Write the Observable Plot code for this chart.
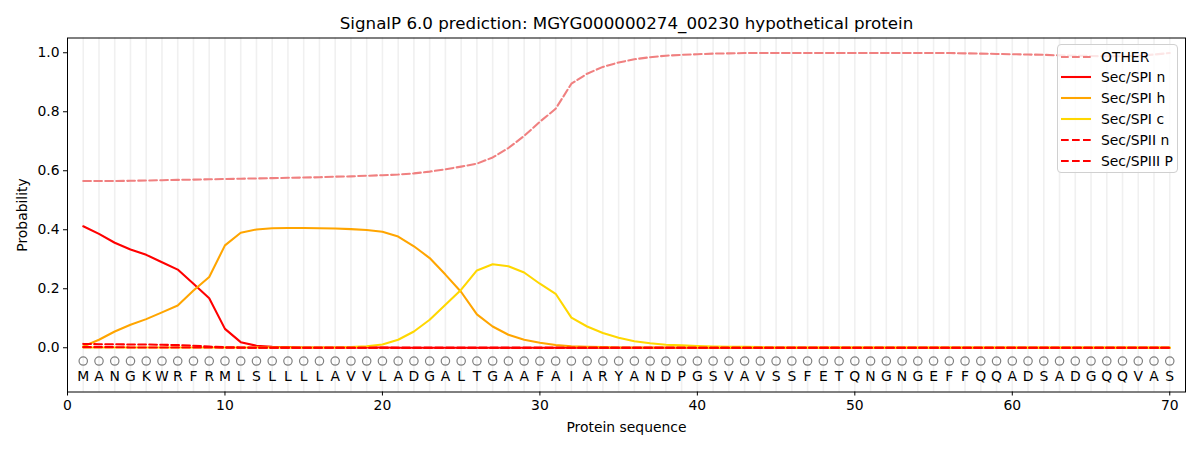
<!DOCTYPE html>
<html>
<head>
<meta charset="utf-8">
<script src="https://cdn.jsdelivr.net/npm/d3@7"></script>
<script src="https://cdn.jsdelivr.net/npm/@observablehq/plot@0.6"></script>
<style>
  html, body { margin: 0; padding: 0; background: #fff; }
  #wrap { position: relative; width: 1200px; height: 450px; font-family: "DejaVu Sans", sans-serif; }
  #legend { position: absolute; left: 1057px; top: 44px; width: 121px; height: 129px; box-sizing: border-box;
            border: 1px solid #d0d0d0; border-radius: 4px; background: rgba(255,255,255,0.8); }
  .row { position: absolute; left: 0; height: 20px; display: flex; align-items: center; font-size: 13.9px; color: #000; white-space: nowrap; }
  .row svg { margin-left: 3px; margin-right: 10px; }
</style>
</head>
<body>
<div id="wrap"><div id="legend"></div></div>
<script>
const title = "SignalP 6.0 prediction: MGYG000000274_00230 hypothetical protein";
const residues = "MANGKWRFRMLSLLLLAVVLADGALTGAAFAIARYANDPGSVAVSSFETQNGNGEFFQQADSADGQQVAS".split("");
const xTicks = [0, 10, 20, 30, 40, 50, 60, 70];
const yTicks = [0, 0.2, 0.4, 0.6, 0.8, 1.0];

const other = [0.565,0.565,0.565,0.566,0.567,0.568,0.569,0.570,0.571,0.572,
  0.573,0.574,0.575,0.576,0.577,0.578,0.580,0.581,0.583,0.585,
  0.587,0.591,0.597,0.605,0.614,0.624,0.645,0.677,0.718,0.766,
  0.810,0.895,0.929,0.952,0.967,0.978,0.985,0.990,0.993,0.995,
  0.997,0.998,0.999,0.999,0.999,0.999,0.999,0.999,0.999,0.999,
  0.999,0.999,0.999,0.999,0.999,0.999,0.998,0.997,0.996,0.995,
  0.994,0.993,0.991,0.990,0.989,0.988,0.988,0.990,0.994,0.999];
const spiN = [0.412,0.386,0.356,0.333,0.315,0.290,0.265,0.217,0.168,0.064,
  0.019,0.007,0.003,0.002,0.001,0.001,0.001,0.001,0.001,0.001,
  0,0,0,0,0,0,0,0,0,0,0,0,0,0,0,0,0,0,0,0,
  0,0,0,0,0,0,0,0,0,0,0,0,0,0,0,0,0,0,0,0,0,0,0,0,0,0,0,0,0,0];
const spiH = [0.004,0.027,0.055,0.078,0.097,0.120,0.143,0.194,0.240,0.347,
  0.390,0.401,0.405,0.406,0.406,0.405,0.404,0.402,0.399,0.393,
  0.377,0.344,0.304,0.248,0.189,0.113,0.072,0.044,0.027,0.017,
  0.009,0.005,0.003,0.002,0.001,0.001,0.001,0.001,0.001,0,
  0,0,0,0,0,0,0,0,0,0,0,0,0,0,0,0,0,0,0,0,0,0,0,0,0,0,0,0,0,0];
const spiC = [0.001,0.001,0.001,0.001,0.001,0.001,0.001,0.001,0.001,0.001,
  0.001,0.001,0.001,0.001,0.001,0.001,0.001,0.002,0.005,0.011,
  0.027,0.055,0.095,0.146,0.197,0.262,0.283,0.276,0.255,0.217,
  0.183,0.102,0.072,0.050,0.034,0.022,0.015,0.010,0.008,0.006,
  0.004,0.003,0.003,0.002,0.001,0.001,0.001,0.001,0.001,0.001,
  0.001,0.001,0.001,0.001,0.001,0.001,0.001,0.001,0.001,0.001,
  0.001,0.001,0.001,0.001,0.001,0.001,0.001,0.001,0.001,0.001];
const spiiN = [0.013,0.012,0.012,0.011,0.011,0.010,0.009,0.007,0.004,0.002,
  0.001,0,0,0,0,0,0,0,0,0,0,0,0,0,0,0,0,0,0,0,
  0,0,0,0,0,0,0,0,0,0,0,0,0,0,0,0,0,0,0,0,0,0,0,0,0,0,0,0,0,0,0,0,0,0,0,0,0,0,0,0];
const spiiiP = [0.002,0.002,0.002,0.001,0.001,0.001,0.001,0.001,0.001,0,
  0,0,0,0,0,0,0,0,0,0,0,0,0,0,0,0,0,0,0,0,
  0,0,0,0,0,0,0,0,0,0,0,0,0,0,0,0,0,0,0,0,0,0,0,0,0,0,0,0,0,0,0,0,0,0,0,0,0,0,0,0];

const seriesNames = ["OTHER", "Sec/SPI n", "Sec/SPI h", "Sec/SPI c", "Sec/SPII n", "Sec/SPIII P"];
const seriesValues = [other, spiN, spiH, spiC, spiiN, spiiiP];
const seriesColors = ["lightcoral", "red", "orange", "gold", "red", "red"];
const seriesDashed = [true, false, false, false, true, true];

const positions = residues.map((_, i) => i + 1);
const dash = "7.7,3.3";
const font = "DejaVu Sans, sans-serif";

const lineMarks = seriesValues.map((vals, s) =>
  Plot.line(vals.map((v, i) => ({x: i + 1, y: v})), {
    x: "x", y: "y", stroke: seriesColors[s], strokeWidth: 2.08,
    strokeDasharray: seriesDashed[s] ? dash : null
  })
);

const chart = Plot.plot({
  width: 1200, height: 450,
  marginLeft: 67, marginRight: 15, marginTop: 37.5, marginBottom: 58.5,
  style: {fontFamily: font, fontSize: "13.9px", background: "white", color: "black"},
  x: {domain: [0, 71]},
  y: {domain: [-0.15, 1.05]},
  marks: [
    Plot.ruleX(positions, {x: d => d, stroke: "#f0f0f0", strokeWidth: 1.6}),
    Plot.dot(positions, {x: d => d, y: () => -0.045, r: 4.2, stroke: "gray", strokeWidth: 1.2, fill: "none"}),
    Plot.text(residues, {x: (d, i) => i + 1, y: () => -0.098, text: d => d, fontSize: 13.9, fill: "black"}),
    ...lineMarks,
    Plot.frame({stroke: "black", strokeWidth: 1}),
    Plot.axisX({ticks: xTicks, tickSize: 4, tickPadding: 4, label: null, fontSize: 13.9}),
    Plot.axisY({ticks: yTicks, tickSize: 4, tickPadding: 4, tickFormat: d3.format(".1f"), label: null, fontSize: 13.9}),
    Plot.text([title], {frameAnchor: "top", lineAnchor: "middle", textAnchor: "middle", dy: -14.5, text: d => d, fontSize: 16.7, fill: "black"}),
    Plot.text(["Protein sequence"], {frameAnchor: "bottom", lineAnchor: "middle", textAnchor: "middle", dy: 35.5, text: d => d, fontSize: 13.9, fill: "black"}),
    Plot.text(["Probability"], {frameAnchor: "left", lineAnchor: "middle", textAnchor: "middle", dx: -45, rotate: -90, text: d => d, fontSize: 13.9, fill: "black"})
  ]
});
document.getElementById("wrap").prepend(chart);

const legend = document.getElementById("legend");
seriesNames.forEach((name, s) => {
  const row = document.createElement("div");
  row.className = "row";
  row.style.top = (1.5 + s * 20.9) + "px";
  const ns = "http://www.w3.org/2000/svg";
  const svg = document.createElementNS(ns, "svg");
  svg.setAttribute("width", 30); svg.setAttribute("height", 20);
  const ln = document.createElementNS(ns, "line");
  ln.setAttribute("x1", 0); ln.setAttribute("x2", 30); ln.setAttribute("y1", 10); ln.setAttribute("y2", 10);
  ln.setAttribute("stroke", seriesColors[s]); ln.setAttribute("stroke-width", 2.08);
  if (seriesDashed[s]) ln.setAttribute("stroke-dasharray", dash);
  svg.appendChild(ln);
  row.appendChild(svg);
  const t = document.createElement("span");
  t.textContent = name;
  row.appendChild(t);
  legend.appendChild(row);
});
</script>
</body>
</html>
